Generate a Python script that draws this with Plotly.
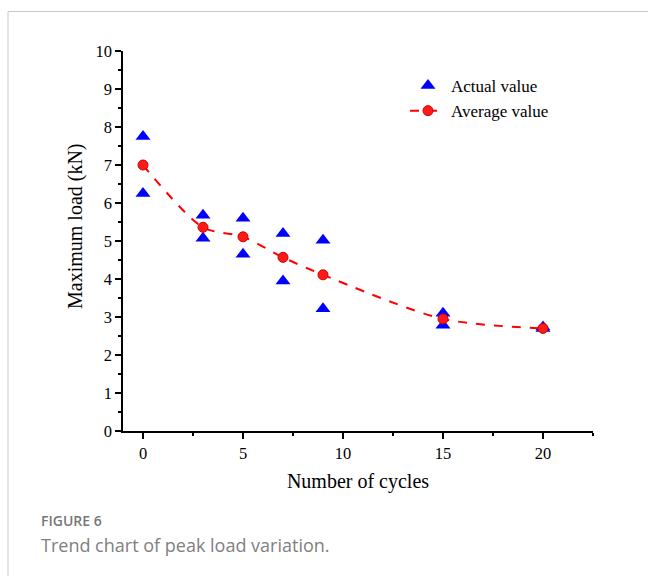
import plotly.graph_objects as go

cycles_actual = [0, 0, 3, 3, 5, 5, 7, 7, 9, 9, 15, 15, 20, 20]
load_actual = [7.75, 6.25, 5.68, 5.07, 5.60, 4.65, 5.20, 3.95, 5.02, 3.22, 3.10, 2.78, 2.74, 2.70]
cycles_avg = [0, 3, 5, 7, 9, 15, 20]
load_avg = [7.0, 5.36, 5.11, 4.57, 4.11, 2.95, 2.70]

serif = "Liberation Serif, Times New Roman, serif"

fig = go.Figure()
fig.add_trace(go.Scatter(
    x=cycles_actual, y=load_actual, mode="markers", name="Actual value",
    marker=dict(symbol="triangle-up", size=13, color="#0000ff", line=dict(width=0)),
))
fig.add_trace(go.Scatter(
    x=cycles_avg, y=load_avg, mode="lines+markers", name="Average value",
    line=dict(color="#ff0000", width=2, dash="dash", shape="spline", smoothing=0.8),
    marker=dict(symbol="circle", size=10, color="#ff1a1a", line=dict(color="#cc0000", width=1)),
))

L, R, T, B = 123, 55, 51, 145
W, H = 648, 576
pw, ph = W - L - R, H - T - B

def px(x):
    return (x - L) / pw

def py(y):
    return (H - B - y) / ph

fig.update_layout(
    width=W, height=H,
    margin=dict(l=L, r=R, t=T, b=B, autoexpand=False),
    paper_bgcolor="white", plot_bgcolor="white",
    font=dict(family=serif, color="black", size=16),
    showlegend=True,
    legend=dict(x=px(405), y=py(68), xanchor="left", yanchor="top",
                bgcolor="rgba(0,0,0,0)", font=dict(family=serif, size=17, color="black"),
                tracegroupgap=0, itemwidth=36),
    xaxis=dict(range=[-1, 22.5], tickvals=[0, 5, 10, 15, 20], showgrid=False, zeroline=False,
               showline=True, linecolor="black", linewidth=1.5, ticks="outside", ticklen=6,
               tickwidth=1.5, tickcolor="black",
               minor=dict(tickvals=[2.5, 7.5, 12.5, 17.5, 22.5], ticks="outside", ticklen=3,
                          tickwidth=1.5, tickcolor="black"),
               title=dict(text="Number of cycles", font=dict(family=serif, size=20), standoff=12),
               tickfont=dict(family=serif, size=16.5)),
    yaxis=dict(range=[0, 10], tickvals=list(range(0, 11)), showgrid=False, zeroline=False,
               showline=True, linecolor="black", linewidth=1.5, ticks="outside", ticklen=6,
               tickwidth=1.5, tickcolor="black",
               minor=dict(tickvals=[i + 0.5 for i in range(10)], ticks="outside", ticklen=3,
                          tickwidth=1.5, tickcolor="black"),
               tickfont=dict(family=serif, size=16.5)),
    shapes=[
        dict(type="line", xref="paper", yref="paper", x0=px(8), x1=px(648), y0=py(11.5), y1=py(11.5),
             line=dict(color="#c8c8c8", width=1)),
        dict(type="line", xref="paper", yref="paper", x0=px(8), x1=px(8), y0=py(11.5), y1=py(576),
             line=dict(color="#c8c8c8", width=1)),
    ],
    annotations=[
        dict(text="Maximum load (kN)", xref="paper", yref="paper", x=px(75), y=py(226),
             xanchor="center", yanchor="middle", textangle=-90, showarrow=False,
             font=dict(family=serif, size=20, color="black")),
        dict(text="FIGURE 6", xref="paper", yref="paper", x=px(39), y=py(520), xanchor="left",
             yanchor="middle", showarrow=False,
             font=dict(family="Open Sans, sans-serif", size=14, color="#777777", weight=600)),
        dict(text="Trend chart of peak load variation.", xref="paper", yref="paper", x=px(39),
             y=py(545), xanchor="left", yanchor="middle", showarrow=False,
             font=dict(family="Open Sans, sans-serif", size=18, color="#808080")),
    ],
)

fig.write_html("out.html")
